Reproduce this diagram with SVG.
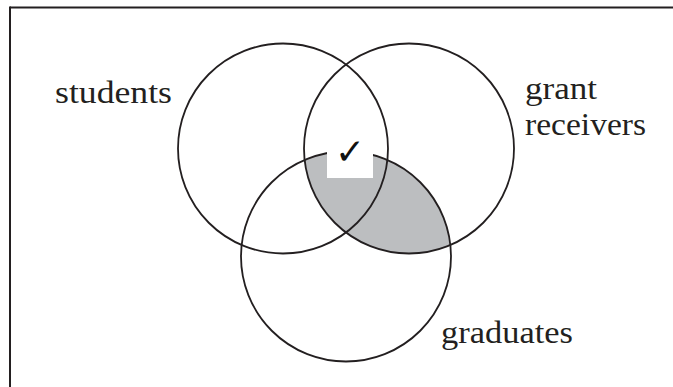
<svg xmlns="http://www.w3.org/2000/svg" width="673" height="387" viewBox="0 0 673 387">
<style>
.ring{fill:none;stroke:#231f20;stroke-width:1.8}
.lbl{font-family:"Liberation Serif",serif;font-size:32px;fill:#231f20}
.frame{stroke:#231f20;stroke-width:2}
</style>
<defs>
<clipPath id="c2"><circle cx="409" cy="148.5" r="105"/></clipPath>
</defs>
<rect width="673" height="387" fill="#fff"/>
<g id="frame">
<line class="frame" x1="10" y1="7.5" x2="673" y2="7.5"/>
<line class="frame" x1="10" y1="6.5" x2="10" y2="387"/>
</g>
<g id="shade">
<circle cx="346" cy="256.5" r="105" fill="#bcbec0" clip-path="url(#c2)"/>
</g>
<g id="students"><circle class="ring" cx="283" cy="148.5" r="105"/><text class="lbl" x="55" y="103" textLength="117" lengthAdjust="spacingAndGlyphs">students</text></g>
<g id="grant"><circle class="ring" cx="409" cy="148.5" r="105"/><text class="lbl" x="525" y="99" textLength="72" lengthAdjust="spacingAndGlyphs">grant</text><text class="lbl" x="525" y="135" textLength="121" lengthAdjust="spacingAndGlyphs">receivers</text></g>
<g id="graduates"><circle class="ring" cx="346" cy="256.5" r="105"/><text class="lbl" x="441" y="343" textLength="132" lengthAdjust="spacingAndGlyphs">graduates</text></g>
<g id="check"><rect x="327" y="140" width="46" height="38" fill="#fff"/><text x="350" y="164" text-anchor="middle" font-family="DejaVu Sans,sans-serif" font-size="36" font-weight="bold" fill="#111">✓</text></g>
</svg>
